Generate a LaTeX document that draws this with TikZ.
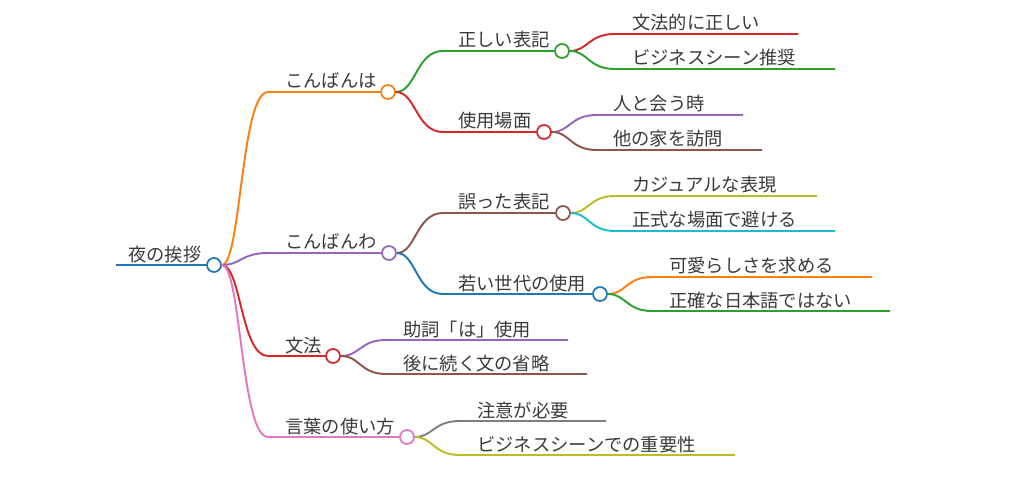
\documentclass[tikz,border=0pt]{standalone}
\usepackage{fontspec}
\newfontfamily\jp{Noto Sans CJK JP}
\usepackage{tikz}

\definecolor{cblue}{HTML}{1F77B4}
\definecolor{corange}{HTML}{FF7F0E}
\definecolor{cgreen}{HTML}{2CA02C}
\definecolor{cred}{HTML}{D62728}
\definecolor{cpurple}{HTML}{9467BD}
\definecolor{cbrown}{HTML}{8C564B}
\definecolor{cpink}{HTML}{E377C2}
\definecolor{cgray}{HTML}{7F7F7F}
\definecolor{colive}{HTML}{BCBD22}
\definecolor{ccyan}{HTML}{17BECF}
\definecolor{txt}{HTML}{3A3A3A}

\tikzset{
  branch/.style={draw=#1, line width=1.1pt},
  knot/.style={circle, draw=#1, fill=white, line width=1pt, minimum size=0.28cm, inner sep=0pt},
  lbl/.style={anchor=base west, inner sep=0pt, text=txt, font=\jp\fontsize{10.4}{12}\selectfont}
}

\begin{document}
\begin{tikzpicture}[x=0.02cm, y=-0.02cm]
    \useasboundingbox (0,0) rectangle (1024,486);

    % Root
    \coordinate (R-s) at (116,265);
    \node[knot=cblue] (R) at (214,265) {};
    \node[lbl] (R-t) at (128,261) {夜の挨拶};
    \draw[branch=cblue] (R-s) -- (R);

    % First level
    \coordinate (A-s) at (268,92);
    \node[knot=corange] (A) at (388,92) {};
    \node[lbl] (A-t) at (285,88) {こんばんは};
    \draw[branch=corange] (R) .. controls (241,265) and (241,92) .. (A-s) -- (A);

    \coordinate (B-s) at (268,253);
    \node[knot=cpurple] (B) at (389,253) {};
    \node[lbl] (B-t) at (285,249) {こんばんわ};
    \draw[branch=cpurple] (R) .. controls (241,265) and (241,253) .. (B-s) -- (B);

    \coordinate (C-s) at (268,356);
    \node[knot=cred] (C) at (333,356) {};
    \node[lbl] (C-t) at (285,352) {文法};
    \draw[branch=cred] (R) .. controls (241,265) and (241,356) .. (C-s) -- (C);

    \coordinate (D-s) at (268,437);
    \node[knot=cpink] (D) at (407,437) {};
    \node[lbl] (D-t) at (285,433) {言葉の使い方};
    \draw[branch=cpink] (R) .. controls (241,265) and (241,437) .. (D-s) -- (D);

    % Under こんばんは
    \coordinate (A1-s) at (443,51);
    \node[knot=cgreen] (A1) at (562,51) {};
    \node[lbl] (A1-t) at (458,47) {正しい表記};
    \draw[branch=cgreen] (A) .. controls (416,92) and (416,51) .. (A1-s) -- (A1);

    \coordinate (A2-s) at (443,132);
    \node[knot=cred] (A2) at (544,132) {};
    \node[lbl] (A2-t) at (458,128) {使用場面};
    \draw[branch=cred] (A) .. controls (416,92) and (416,132) .. (A2-s) -- (A2);

    \coordinate (A1a-s) at (615,34);
    \coordinate (A1a-e) at (798,34);
    \node[lbl] (A1a-t) at (632,30) {文法的に正しい};
    \draw[branch=cred] (A1) .. controls (588,51) and (588,34) .. (A1a-s) -- (A1a-e);

    \coordinate (A1b-s) at (615,69);
    \coordinate (A1b-e) at (835,69);
    \node[lbl] (A1b-t) at (632,65) {ビジネスシーン推奨};
    \draw[branch=cgreen] (A1) .. controls (588,51) and (588,69) .. (A1b-s) -- (A1b-e);

    \coordinate (A2a-s) at (597,115);
    \coordinate (A2a-e) at (743,115);
    \node[lbl] (A2a-t) at (613,111) {人と会う時};
    \draw[branch=cpurple] (A2) .. controls (570,132) and (570,115) .. (A2a-s) -- (A2a-e);

    \coordinate (A2b-s) at (597,150);
    \coordinate (A2b-e) at (762,150);
    \node[lbl] (A2b-t) at (613,146) {他の家を訪問};
    \draw[branch=cbrown] (A2) .. controls (570,132) and (570,150) .. (A2b-s) -- (A2b-e);

    % Under こんばんわ
    \coordinate (B1-s) at (443,213);
    \node[knot=cbrown] (B1) at (563,213) {};
    \node[lbl] (B1-t) at (458,209) {誤った表記};
    \draw[branch=cbrown] (B) .. controls (416,253) and (416,213) .. (B1-s) -- (B1);

    \coordinate (B2-s) at (443,294);
    \node[knot=cblue] (B2) at (600,294) {};
    \node[lbl] (B2-t) at (458,290) {若い世代の使用};
    \draw[branch=cblue] (B) .. controls (416,253) and (416,294) .. (B2-s) -- (B2);

    \coordinate (B1a-s) at (615,196);
    \coordinate (B1a-e) at (817,196);
    \node[lbl] (B1a-t) at (632,192) {カジュアルな表現};
    \draw[branch=colive] (B1) .. controls (589,213) and (589,196) .. (B1a-s) -- (B1a-e);

    \coordinate (B1b-s) at (615,231);
    \coordinate (B1b-e) at (835,231);
    \node[lbl] (B1b-t) at (632,227) {正式な場面で避ける};
    \draw[branch=ccyan] (B1) .. controls (589,213) and (589,231) .. (B1b-s) -- (B1b-e);

    \coordinate (B2a-s) at (652,277);
    \coordinate (B2a-e) at (872,277);
    \node[lbl] (B2a-t) at (669,273) {可愛らしさを求める};
    \draw[branch=corange] (B2) .. controls (626,294) and (626,277) .. (B2a-s) -- (B2a-e);

    \coordinate (B2b-s) at (652,311);
    \coordinate (B2b-e) at (890,311);
    \node[lbl] (B2b-t) at (669,307) {正確な日本語ではない};
    \draw[branch=cgreen] (B2) .. controls (626,294) and (626,311) .. (B2b-s) -- (B2b-e);

    % Under 文法
    \coordinate (C1-s) at (386,340);
    \coordinate (C1-e) at (568,340);
    \node[lbl] (C1-t) at (403,336) {助詞「は」使用};
    \draw[branch=cpurple] (C) .. controls (360,356) and (360,340) .. (C1-s) -- (C1-e);

    \coordinate (C2-s) at (386,374);
    \coordinate (C2-e) at (587,374);
    \node[lbl] (C2-t) at (403,370) {後に続く文の省略};
    \draw[branch=cbrown] (C) .. controls (360,356) and (360,374) .. (C2-s) -- (C2-e);

    % Under 言葉の使い方
    \coordinate (D1-s) at (460,421);
    \coordinate (D1-e) at (606,421);
    \node[lbl] (D1-t) at (477,417) {注意が必要};
    \draw[branch=cgray] (D) .. controls (433,437) and (433,421) .. (D1-s) -- (D1-e);

    \coordinate (D2-s) at (460,455);
    \coordinate (D2-e) at (735,455);
    \node[lbl] (D2-t) at (477,451) {ビジネスシーンでの重要性};
    \draw[branch=colive] (D) .. controls (433,437) and (433,455) .. (D2-s) -- (D2-e);
\end{tikzpicture}
\end{document}
